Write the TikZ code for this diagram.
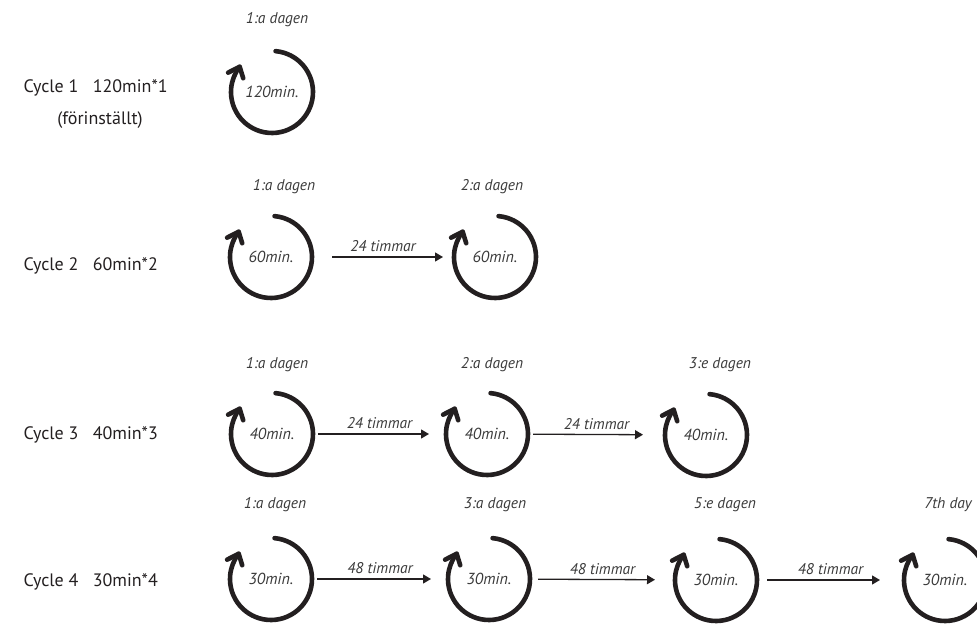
\documentclass[tikz,border=0pt]{standalone}
\usepackage{fontspec}
\setmainfont{PT Sans}
\usepackage{xcolor}
\usepackage{tikz}
\usetikzlibrary{positioning,arrows.meta}

\definecolor{ink}{HTML}{231F20}
\definecolor{txt}{HTML}{3A3A3A}

\tikzset{
  cyc/.style={circle,minimum size=82pt,inner sep=0pt,outer sep=0pt,
    text=txt,font=\itshape\fontsize{16}{19}\selectfont},
  loop/.style={ink,line width=4.6pt,line cap=round,line join=round},
  day/.style={text=txt,font=\itshape\fontsize{15.5}{18}\selectfont},
  row/.style={anchor=west,text=ink,font=\fontsize{18}{22}\selectfont},
  conn/.style={ink,line width=1.3pt,-{Triangle[length=8pt,width=9pt]},
    shorten <=5pt,shorten >=17pt},
  hrs/.style={above=1pt,text=txt,font=\itshape\fontsize{15.5}{18}\selectfont}
}
% circular arrow round a cycle node
\newcommand{\looparc}[1]{%
  \draw[loop] (#1.85) arc[start angle=85,end angle=-218,radius=41pt];
  \draw[loop] ([shift={(207:13pt)}]#1.142) -- (#1.142) -- ([shift={(287:12pt)}]#1.142);}

\begin{document}
\begin{tikzpicture}[x=1pt,y=1pt]
  \useasboundingbox (0,0) rectangle (977,624);

  % cycle 1
  \node[row] (r1) at (20,536) {Cycle 1\ \ \ 120min*1};
  \node[row,anchor=center] (r1b) at (100,504) {(förinställt)};
  \node[cyc] (c11) at (272,532) {120min.};
  \looparc{c11}
  \node[day] (d11) at (277,604) {1:a dagen};

  % cycle 2
  \node[row] (r2) at (20,358) {Cycle 2\ \ \ 60min*2};
  \node[cyc] (c21) at (271,367) {60min.};
  \node[cyc] (c22) at (495,367) {60min.};
  \looparc{c21}
  \looparc{c22}
  \node[day] (d21) at (284,437) {1:a dagen};
  \node[day] (d22) at (492,437) {2:a dagen};
  \draw[conn,shorten <=20pt,shorten >=11pt] (c21) -- node[hrs] {24 timmar} (c22);

  % cycle 3
  \node[row] (r3) at (20,189) {Cycle 3\ \ \ 40min*3};
  \node[cyc] (c31) at (272,190) {40min.};
  \node[cyc] (c32) at (487,190) {40min.};
  \node[cyc] (c33) at (706,189) {40min.};
  \foreach \c in {c31,c32,c33} {\looparc{\c}}
  \node[day] (d31) at (277,259) {1:a dagen};
  \node[day] (d32) at (492,259) {2:a dagen};
  \node[day] (d33) at (720,259) {3:e dagen};
  \draw[conn] (c31) -- node[hrs] {24 timmar} (c32);
  \draw[conn,shorten >=22pt] (c32) -- node[hrs] {24 timmar} (c33);

  % cycle 4
  \node[row] (r4) at (20,42) {Cycle 4\ \ \ 30min*4};
  \node[cyc] (c41) at (271,45) {30min.};
  \node[cyc] (c42) at (489,45) {30min.};
  \node[cyc] (c43) at (716,44) {30min.};
  \node[cyc] (c44) at (945,44) {30min.};
  \foreach \c in {c41,c42,c43,c44} {\looparc{\c}}
  \node[day] (d41) at (275,119) {1:a dagen};
  \node[day] (d42) at (495,119) {3:a dagen};
  \node[day] (d43) at (725,119) {5:e dagen};
  \node[day] (d44) at (948,119) {7th day};
  \draw[conn] (c41) -- node[hrs] {48 timmar} (c42);
  \draw[conn,shorten <=8pt,shorten >=20pt] (c42) -- node[hrs] {48 timmar} (c43);
  \draw[conn,shorten <=10pt,shorten >=24pt] (c43) -- node[hrs] {48 timmar} (c44);
\end{tikzpicture}
\end{document}
